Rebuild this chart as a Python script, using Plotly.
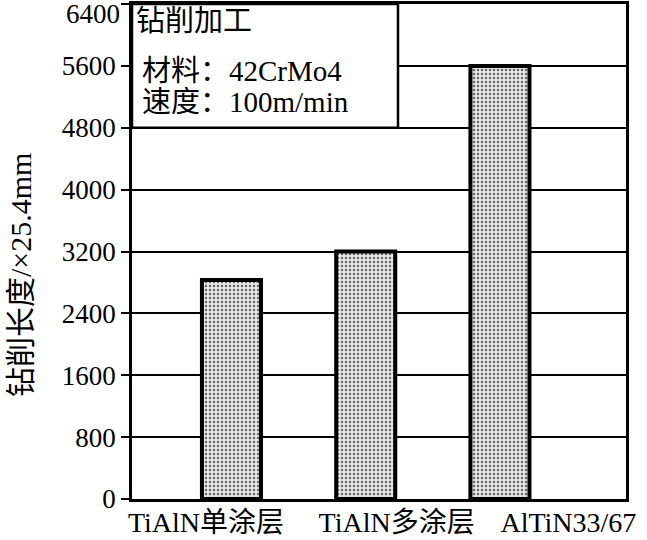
import plotly.graph_objects as go

# ---- data ----
categories = ["TiAlN单涂层", "TiAlN多涂层", "AlTiN33/67"]
drill_length = [2830, 3200, 5600]
y_ticks = [0, 800, 1600, 2400, 3200, 4000, 4800, 5600, 6400]
y_title = "钻削长度/×25.4mm"
box_lines = ["钻削加工", "材料：42CrMo4", "速度：100m/min"]

# ---- layout constants ----
W, H = 647, 540
L, R, T, B = 132, 21, 4, 41
PW, PH = W - L - R, H - T - B
x_idx = list(range(len(categories)))
label_pos = [-0.19, 1.23, 2.51]

SERIF = "Liberation Serif, Times New Roman, Noto Sans CJK SC, serif"

fig = go.Figure()
fig.add_trace(go.Bar(
    x=x_idx,
    y=drill_length,
    width=0.44,
    marker=dict(
        color="#d6d6d6",
        line=dict(color="black", width=4),
        pattern=dict(shape=".", fgcolor="#666666", bgcolor="#e8e8e8",
                     size=4, solidity=0.3, fillmode="replace"),
    ),
    showlegend=False,
    hoverinfo="x+y",
))

ytext = [str(v) if v != y_ticks[-1] else "" for v in y_ticks]

fig.update_layout(
    width=W, height=H,
    margin=dict(l=L, r=R, t=T, b=B, pad=0),
    paper_bgcolor="white",
    plot_bgcolor="white",
    font=dict(family=SERIF, size=27, color="black"),
    xaxis=dict(
        range=[-0.741, 2.939],
        tickvals=label_pos,
        ticktext=categories,
        ticks="",
        showgrid=False,
        zeroline=False,
        showline=True, linecolor="black", linewidth=2.5, mirror=True,
        tickfont=dict(family=SERIF, size=28),
        ticklabeloverflow="allow",
        ticklabelstandoff=-3,
        automargin=False,
    ),
    yaxis=dict(
        range=[0, 6400],
        tickvals=y_ticks,
        ticktext=ytext,
        ticks="outside", ticklen=8, tickwidth=2, tickcolor="black",
        showgrid=True, gridcolor="black", gridwidth=2.2,
        zeroline=False,
        showline=True, linecolor="black", linewidth=2.5, mirror=True,
        tickfont=dict(family=SERIF, size=27),
        ticklabeloverflow="allow",
        automargin=False,
    ),
)

# top tick label, nudged down so it stays inside the page as in the reference
fig.add_annotation(text=str(y_ticks[-1]), xref="paper", yref="y",
                   x=-(8 + 2) / PW, y=y_ticks[-1], xanchor="right", yanchor="top",
                   yshift=7, showarrow=False,
                   font=dict(family=SERIF, size=27, color="black"))

# y-axis title
fig.add_annotation(text=y_title, xref="paper", yref="paper",
                   x=-(L - 20) / PW, y=1 - (275 - T) / PH,
                   xanchor="center", yanchor="middle", textangle=-90,
                   showarrow=False,
                   font=dict(family=SERIF, size=30, color="black"))

# white text box in upper-left of the plot
box_right = (398 - L) / PW
fig.add_shape(type="rect", xref="paper", yref="y",
              x0=0, x1=box_right, y0=4800, y1=6400,
              fillcolor="white", line=dict(color="black", width=2.5),
              layer="above")

line_y = [6180, 5530, 5130]
line_x = [(134 - L) / PW, (140 - L) / PW, (140 - L) / PW]
for txt, xx, yy in zip(box_lines, line_x, line_y):
    fig.add_annotation(text=txt, xref="paper", yref="y", x=xx, y=yy,
                       xanchor="left", yanchor="middle", showarrow=False,
                       font=dict(family=SERIF, size=29, color="black"))

fig.write_html("out.html",
               config={"displayModeBar": False},
               post_script="document.body.style.margin='0';document.body.style.padding='0';")
